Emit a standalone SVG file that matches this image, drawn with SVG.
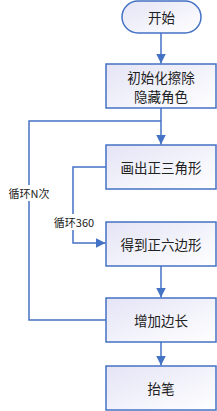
<svg xmlns="http://www.w3.org/2000/svg" width="217" height="411" viewBox="0 0 217 411">
<style>
.box{fill:url(#g);stroke:#4472C4;stroke-width:1.5}
.t{font-family:"Noto Sans CJK SC","Noto Sans",sans-serif;font-size:13.5px;fill:#222;text-anchor:middle;dominant-baseline:central}
.l{font-family:"Noto Sans CJK SC","Noto Sans",sans-serif;font-size:11px;fill:#222;text-anchor:middle;dominant-baseline:central}
.c{fill:none;stroke:#4472C4;stroke-width:1.5}
</style>
<defs>
<linearGradient id="g" x1="0" y1="0" x2="1" y2="1">
<stop offset="0" stop-color="#e4e4f6"/>
<stop offset="1" stop-color="#ffffff"/>
</linearGradient>
<marker id="a" viewBox="0 0 10 10" refX="10" refY="5" markerWidth="10" markerHeight="10" markerUnits="userSpaceOnUse" orient="auto">
<path d="M0,0 L10,5 L0,10 z" fill="#4472C4"/>
</marker>
</defs>
<g id="connectors">
<path class="c" d="M161,33 V63.5" marker-end="url(#a)"/>
<path class="c" d="M161,108 V144.5" marker-end="url(#a)"/>
<path class="c" d="M106,320 H29 V121 H161"/>
<path class="c" d="M106,167 H73 V243 H105.5" marker-end="url(#a)"/>
<path class="c" d="M161,266 V297.5" marker-end="url(#a)"/>
<path class="c" d="M161,342 V365.5" marker-end="url(#a)"/>
<rect x="52" y="214" width="44" height="16" fill="#fff"/>
<text class="l" x="74" y="222">循环360</text>
<rect x="7" y="185" width="44" height="16" fill="#fff"/>
<text class="l" x="29" y="193">循环N次</text>
</g>
<g id="start">
<rect class="box" x="122" y="1" width="79" height="32" rx="16"/>
<text class="t" x="161.5" y="17">开始</text>
</g>
<g id="init">
<rect class="box" x="106" y="64" width="110" height="44"/>
<text class="t" x="161" y="77">初始化擦除</text>
<text class="t" x="161" y="96">隐藏角色</text>
</g>
<g id="triangle">
<rect class="box" x="106" y="145" width="110" height="44"/>
<text class="t" x="161" y="167">画出正三角形</text>
</g>
<g id="hexagon">
<rect class="box" x="106" y="222" width="110" height="44"/>
<text class="t" x="161" y="244">得到正六边形</text>
</g>
<g id="increase">
<rect class="box" x="106" y="298" width="110" height="44"/>
<text class="t" x="161" y="320">增加边长</text>
</g>
<g id="penup">
<rect class="box" x="106" y="366" width="110" height="44"/>
<text class="t" x="161" y="388">抬笔</text>
</g>
</svg>
